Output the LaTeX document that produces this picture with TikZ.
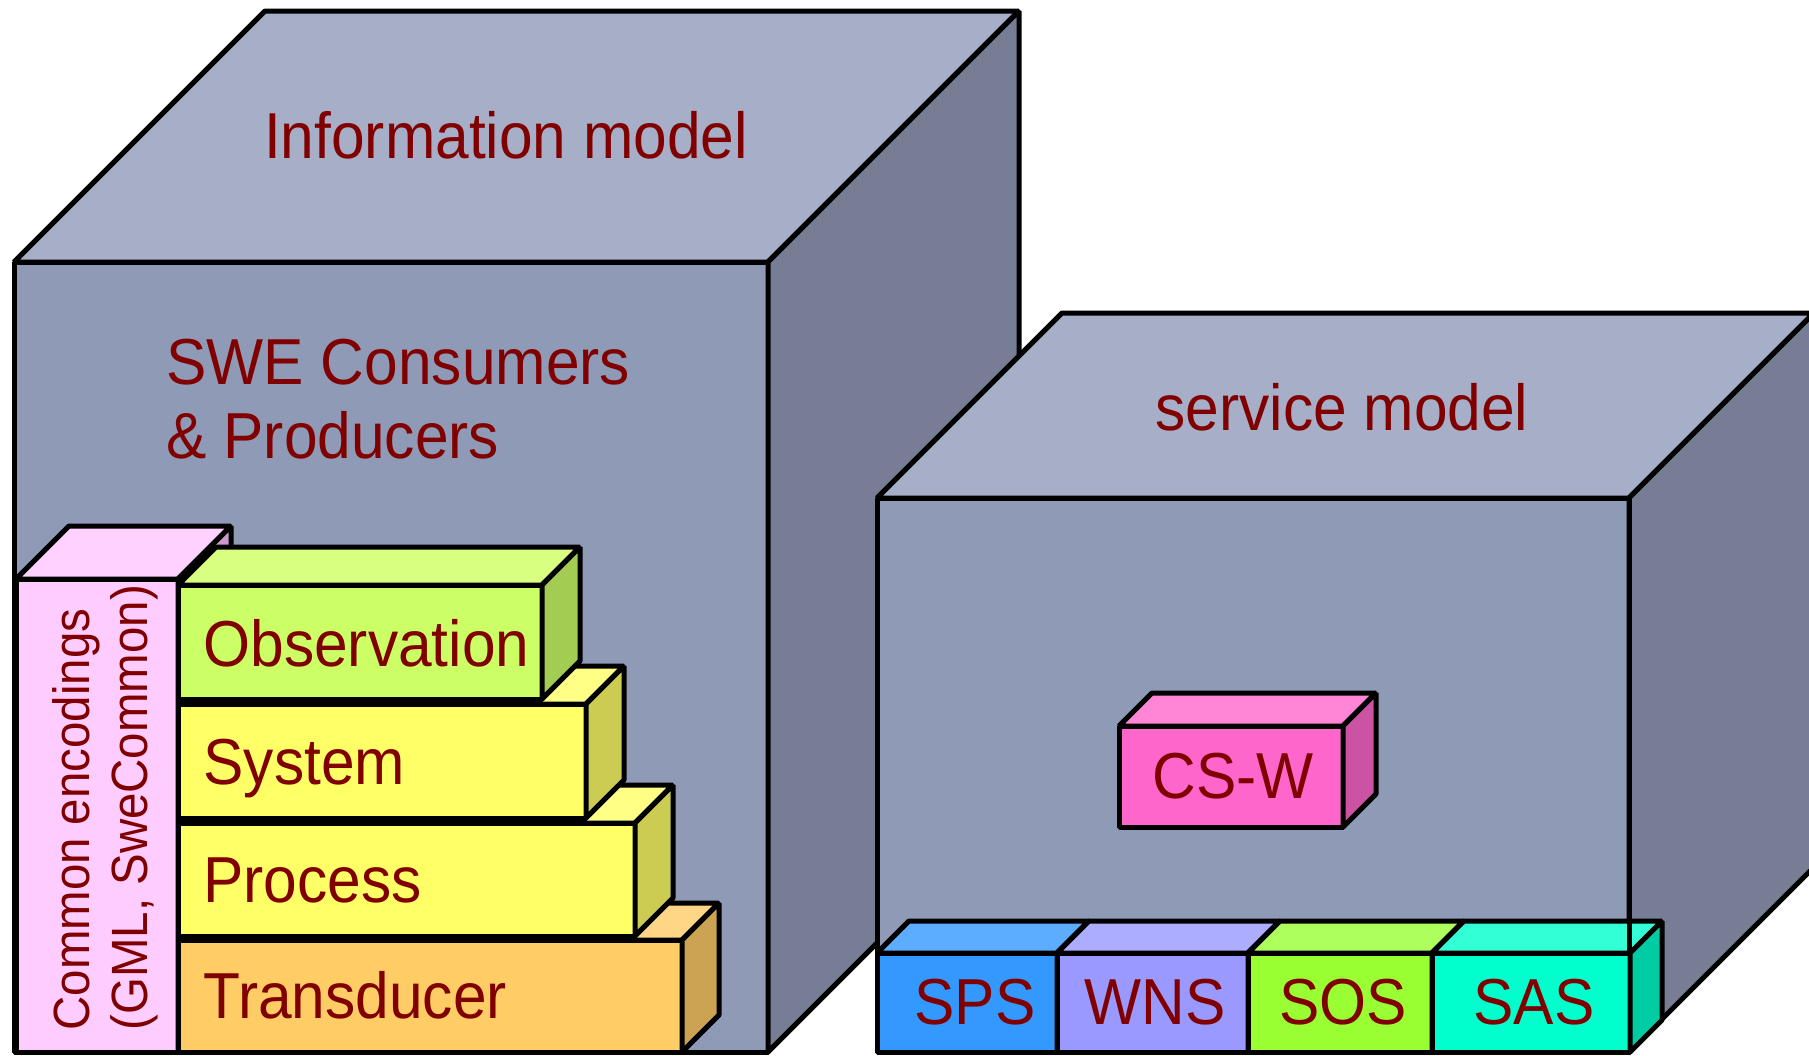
\documentclass[tikz,border=0pt]{standalone}
\usepackage{fontspec}
\setmainfont[FakeStretch=0.93]{Liberation Sans}
\usepackage{tikz}

\definecolor{txtred}{RGB}{128,0,0}
\definecolor{cubefront}{RGB}{143,154,183}
\definecolor{cubetop}{RGB}{167,174,199}
\definecolor{cubeside}{RGB}{118,125,149}
\definecolor{pinkfront}{HTML}{FFCCFF}
\definecolor{pinktop}{HTML}{FFD1FF}
\definecolor{pinkside}{HTML}{CC99CC}
\definecolor{obsfront}{HTML}{CCFF66}
\definecolor{obstop}{HTML}{D9FF80}
\definecolor{obsside}{HTML}{A3CC52}
\definecolor{yelfront}{HTML}{FFFF66}
\definecolor{yeltop}{HTML}{FFFF85}
\definecolor{yelside}{HTML}{CCCC52}
\definecolor{orafront}{HTML}{FFCC66}
\definecolor{oratop}{HTML}{FFD685}
\definecolor{oraside}{HTML}{CCA352}
\definecolor{cswfront}{HTML}{FF66CC}
\definecolor{cswtop}{HTML}{FF85D6}
\definecolor{cswside}{HTML}{CC52A3}
\definecolor{spsfront}{HTML}{3399FF}
\definecolor{spstop}{HTML}{5CADFF}
\definecolor{wnsfront}{HTML}{9999FF}
\definecolor{wnstop}{HTML}{ADADFF}
\definecolor{sosfront}{HTML}{99FF33}
\definecolor{sostop}{HTML}{ADFF5C}
\definecolor{sasfront}{HTML}{00FFCC}
\definecolor{sastop}{HTML}{33FFD6}
\definecolor{sasside}{HTML}{00CCA3}

% front face (x1,y1)-(x2,y2), depth, front/top/side colours
\newcommand{\cuboid}[8]{%
  \filldraw[fill=#6] (#1,#2) rectangle (#3,#4);
  \filldraw[fill=#7] (#1,#2) -- ({#1+#5},{#2-#5}) -- ({#3+#5},{#2-#5}) -- (#3,#2) -- cycle;
  \filldraw[fill=#8] (#3,#2) -- ({#3+#5},{#2-#5}) -- ({#3+#5},{#4-#5}) -- (#3,#4) -- cycle;
}

\begin{document}
\begin{tikzpicture}[x=0.5pt, y=-0.5pt, line width=2.5pt, line join=bevel]
\tikzstyle{every node}=[text=txtred, inner sep=0pt,
                        font=\fontsize{32.5}{39}\selectfont]
\clip (0,0) rectangle (1809,1055);

% the two big cubes
\cuboid{14}{262}{768}{1052}{251}{cubefront}{cubetop}{cubeside}
\cuboid{877}{498}{1629}{1052}{185}{cubefront}{cubetop}{cubeside}

% encodings stack
\cuboid{16}{579}{178}{1052}{53}{pinkfront}{pinktop}{pinkside}
\cuboid{178}{940}{682}{1052}{37}{orafront}{oratop}{oraside}
\cuboid{178}{823}{635}{936}{38}{yelfront}{yeltop}{yelside}
\cuboid{178}{704}{586}{818}{38}{yelfront}{yeltop}{yelside}
\cuboid{178}{585}{542}{699}{38}{obsfront}{obstop}{obsside}

% services
\cuboid{1119}{726}{1343}{827}{33}{cswfront}{cswtop}{cswside}
\cuboid{877}{953}{1057}{1052}{32}{spsfront}{spstop}{spsfront}
\cuboid{1057}{953}{1248}{1052}{32}{wnsfront}{wnstop}{wnsfront}
\cuboid{1248}{953}{1432}{1052}{32}{sosfront}{sostop}{sosfront}
\cuboid{1432}{953}{1630}{1052}{32}{sasfront}{sastop}{sasside}
\draw (1629,498) -- (1629,953);

% labels
\node[anchor=base] (info) at (506,158) {Information model};
\node[anchor=base west] (swe) at (164,384) {SWE Consumers};
\node[anchor=base west] (prod) at (164,458) {\& Producers};
\node[anchor=base] (service) at (1342,430) {service model};
\node[rotate=90, anchor=west, align=left,
      font=\fontsize{25.5}{29}\selectfont] (common) at (105,1033)
      {Common encodings\\(GML, SweCommon)};
\node[anchor=base west] (obs) at (201,666) {Observation};
\node[anchor=base west] (sys) at (201,784) {System};
\node[anchor=base west] (proc) at (201,902) {Process};
\node[anchor=base west] (trans) at (201,1018) {Transducer};
\node[anchor=base] (csw) at (1233,798) {CS-W};
\node[anchor=base] (sps) at (975,1024) {SPS};
\node[anchor=base] (wns) at (1155,1024) {WNS};
\node[anchor=base] (sos) at (1343,1024) {SOS};
\node[anchor=base] (sas) at (1534,1024) {SAS};
\end{tikzpicture}
\end{document}
